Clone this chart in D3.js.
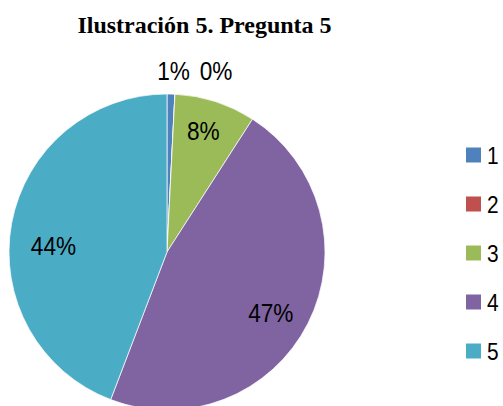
<!DOCTYPE html>
<html>
<head>
<meta charset="utf-8">
<script src="https://cdn.jsdelivr.net/npm/d3@7"></script>
<style>
  body { margin: 0; background: #fff; }
</style>
</head>
<body>
<svg width="503" height="406"></svg>
<script>
// answers to question 5 (share of respondents, %)
const categories = ['1', '2', '3', '4', '5'];
const shares = [0.8, 0, 8.3, 46.7, 44.2];
const labels = ['1%', '0%', '8%', '47%', '44%'];
const colors = ['#4F81BD', '#C0504D', '#9BBB59', '#8064A2', '#4BACC6'];

const svg = d3.select('svg');
const labFont = "'Liberation Sans', Arial, sans-serif";
// the original labels use a narrow face, squeeze them a bit
const squeeze = 0.87;

svg.append('text')
   .text('Ilustración 5. Pregunta 5')
   .attr('x', 204.5)
   .attr('y', 33)
   .style('text-anchor', 'middle')
   .style('font-family', "'Liberation Serif', 'Times New Roman', serif")
   .style('font-weight', 'bold')
   .style('font-size', '24px')
   .style('fill', 'black');

let radius = 158;
let pieG = svg.append('g')
              .attr('transform', `translate(167, 252)`);

const pie = d3.pie().sort(null).value(d => d);
const arc = d3.arc().innerRadius(0).outerRadius(radius);
const arcs = pie(shares);

pieG.selectAll('path')
    .data(arcs)
    .enter()
    .append('path')
    .attr('d', arc)
    .style('fill', (d, i) => colors[i])
    .style('stroke', 'white')
    .style('stroke-width', '0.7px');

// label spots, tiny slices get pushed outside
const inArc = d3.arc().innerRadius(radius * 0.75).outerRadius(radius * 0.75);
const outArc = d3.arc().innerRadius(radius * 1.145).outerRadius(radius * 1.145);
const nudge = [[2, 0], [40, 0], [0, -8], [-2, 7], [3, 15]];

pieG.selectAll('text.pieLabel')
    .data(arcs)
    .enter()
    .append('text')
    .classed('pieLabel', true)
    .text((d, i) => labels[i])
    .attr('transform', (d, i) => {
      let c = (d.endAngle - d.startAngle) < 0.1 ? outArc.centroid(d) : inArc.centroid(d);
      return `translate(${c[0] + nudge[i][0]}, ${c[1] + nudge[i][1]}) scale(${squeeze}, 1)`;
    })
    .attr('dy', '0.35em')
    .style('text-anchor', 'middle')
    .style('font-family', labFont)
    .style('font-size', '26px')
    .style('fill', 'black');

// legend
let legG = svg.append('g')
              .attr('transform', 'translate(466, 155)');

const legItems = legG.selectAll('g')
                     .data(categories)
                     .enter()
                     .append('g')
                     .attr('transform', (d, i) => `translate(0, ${i * 49})`);

legItems.append('rect')
        .attr('x', 0)
        .attr('y', -7.5)
        .attr('width', 15)
        .attr('height', 15)
        .style('fill', (d, i) => colors[i]);

legItems.append('text')
        .text(d => d)
        .attr('transform', `translate(21, 0) scale(${squeeze}, 1)`)
        .attr('dy', '0.36em')
        .style('font-family', labFont)
        .style('font-size', '24px')
        .style('fill', 'black');
</script>
</body>
</html>
